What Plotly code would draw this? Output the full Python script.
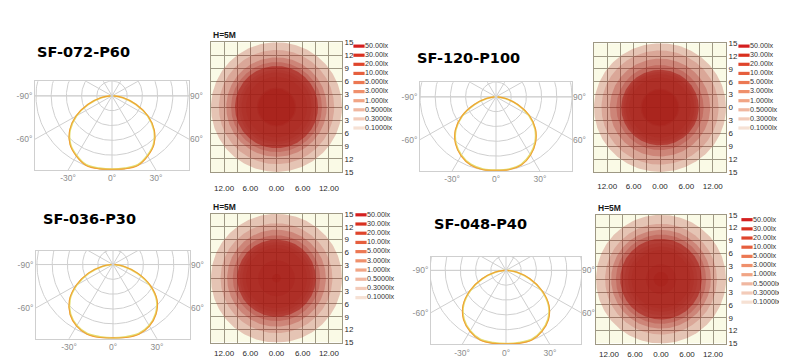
import numpy as np
import plotly.graph_objects as go

W, H = 787, 361

# ---------------- data ----------------
models = ["SF-072-P60", "SF-120-P100", "SF-036-P30", "SF-048-P40"]

# polar photometric diagram: angle from nadir (deg) and relative intensity (outer ring = 1)
angles_deg = [-90, -80, -70, -60, -50, -40, -30, -20, -10, 0, 10, 20, 30, 40, 50, 60, 70, 80, 90]
p60_c0 = [0.02, 0.15, 0.34, 0.55, 0.73, 0.86, 0.94, 1.00, 1.00, 0.99, 1.00, 1.00, 0.94, 0.86, 0.73, 0.55, 0.34, 0.15, 0.02]
p60_c90 = [0.02, 0.14, 0.33, 0.54, 0.72, 0.85, 0.93, 0.99, 0.99, 0.99, 0.99, 0.99, 0.93, 0.85, 0.72, 0.54, 0.33, 0.14, 0.02]
p100_c0 = [0.02, 0.13, 0.31, 0.52, 0.70, 0.83, 0.92, 0.98, 1.00, 0.99, 1.00, 0.98, 0.91, 0.81, 0.68, 0.51, 0.31, 0.13, 0.02]
p100_c90 = [0.02, 0.12, 0.30, 0.51, 0.69, 0.82, 0.91, 0.97, 0.99, 0.99, 0.99, 0.97, 0.90, 0.80, 0.67, 0.50, 0.30, 0.12, 0.02]
p30_c0 = [0.02, 0.15, 0.35, 0.56, 0.75, 0.88, 0.96, 1.00, 1.00, 0.99, 1.00, 1.00, 0.96, 0.88, 0.76, 0.57, 0.35, 0.15, 0.02]
p30_c90 = [0.02, 0.14, 0.34, 0.55, 0.74, 0.87, 0.95, 0.99, 0.99, 0.99, 0.99, 0.99, 0.95, 0.87, 0.75, 0.56, 0.34, 0.14, 0.02]
p40_c0 = [0.02, 0.15, 0.34, 0.55, 0.74, 0.87, 0.95, 1.00, 1.00, 0.99, 1.00, 1.00, 0.95, 0.87, 0.74, 0.55, 0.34, 0.15, 0.02]
p40_c90 = [0.02, 0.14, 0.33, 0.54, 0.73, 0.86, 0.94, 0.99, 0.99, 0.99, 0.99, 0.99, 0.94, 0.86, 0.73, 0.54, 0.33, 0.14, 0.02]

polar_rings = [0.2, 0.4, 0.6, 0.8, 1.0]
polar_spokes = [-90, -60, -30, 0, 30, 60, 90]
polar_spoke_labels = ["-90°", "-60°", "-30°", "0°", "30°", "60°", "90°"]

# isolux diagram (H = 5 m): radius (m) of each illuminance contour
lux_levels = [50, 30, 20, 10, 5, 3, 1, 0.5, 0.3, 0.1]
lux_labels = ["50.00lx", "30.00lx", "20.00lx", "10.00lx", "5.000lx",
              "3.000lx", "1.000lx", "0.5000lx", "0.3000lx", "0.1000lx"]
p60_radii = [4.2, 4.5, 7.0, 8.0, 8.6, 9.5, 10.4, 11.5, 13.2, 15.0]
p100_radii = [4.1, 4.4, 7.0, 7.8, 8.3, 8.8, 9.9, 11.4, 13.3, 15.0]
p30_radii = [1.0, 4.2, 7.0, 7.8, 8.4, 9.0, 10.0, 11.3, 12.8, 15.0]
p40_radii = [1.7, 3.5, 6.8, 7.6, 8.4, 9.4, 10.4, 11.5, 12.9, 15.0]

iso_xticks = [-12, -6, 0, 6, 12]
iso_xticktext = ["12.00", "6.00", "0.00", "6.00", "12.00"]
iso_yticks = [-15, -12, -9, -6, -3, 0, 3, 6, 9, 12, 15]
iso_yticktext = ["15", "12", "9", "6", "3", "0", "3", "6", "9", "12", "15"]
iso_title = "H=5M"

# ---------------- style / layout ----------------
GRID = "#cfcfcf"
ISO_GRID = "#9e9884"
CREAM = "#fafae6"
LEG_COLORS = ["#d41f1f", "#d9301f", "#df452c", "#e65f3e", "#ec7853",
              "#ef906c", "#f1a585", "#f0b7a0", "#f3cbb9", "#f6e1d4"]
FILL_RGB = "165,26,20"
FILL_ALPHA = [0.3, 0.2, 0.15, 0.15, 0.15, 0.55, 0.23, 0.24, 0.17, 0.24]  # same order as lux_levels
NARROW = "Liberation Sans Narrow, Arial Narrow, Liberation Sans, Arial"

# pixel boxes: (left, top, right, bottom, centre_y)
polar_boxes = [(27, 71, 181, 162, 86), (412, 72, 564, 163, 87),
               (28, 245, 182, 335, 259), (423, 251, 573, 341, 265)]
iso_boxes = [(203, 31, 334, 164), (586, 32, 718, 164),
             (203, 207, 334, 339), (588, 208, 718, 340)]
iso_label_len = [8, 6, 3, 3]
iso_show_title = [True, False, True, True]
legend_pos = [(351, 35, 9.33), (736, 35, 9.33), (353, 208, 9.44), (739, 213, 9.4)]
title_pos = [(75, 41.5), (460, 47), (81, 212.5), (472, 217.5)]

polar_series = [(p60_c0, p60_c90), (p100_c0, p100_c90), (p30_c0, p30_c90), (p40_c0, p40_c90)]
iso_series = [p60_radii, p100_radii, p30_radii, p40_radii]

fig = go.Figure()
layout = dict(width=W, height=H, margin=dict(l=0, r=0, t=0, b=0),
              paper_bgcolor="white", plot_bgcolor="white", showlegend=False,
              shapes=[], annotations=[])
counter = [0]


def new_axes():
    counter[0] += 1
    n = counter[0]
    return "" if n == 1 else str(n)


def dom_x(a, b):
    return [a / W, b / W]


def dom_y(top, bottom):
    return [1 - bottom / H, 1 - top / H]


th_curve = np.radians(angles_deg)
t_circ = np.linspace(0, 2 * np.pi, 241)

for k in range(4):
    # ---------- polar diagram ----------
    left, top, right, bottom, cy = polar_boxes[k]
    R = bottom - cy
    xh = (right - left) / 2 / R
    yt = (cy - top) / R
    s = new_axes()
    sR = new_axes()
    xa, ya, yr = "x" + s, "y" + s, "y" + sR
    for r in polar_rings:
        fig.add_trace(go.Scatter(x=r * np.sin(t_circ), y=r * np.cos(t_circ), xaxis=xa, yaxis=ya,
                                 mode="lines", line=dict(color=GRID, width=1), hoverinfo="skip"))
    for a in polar_spokes:
        th = np.radians(a)
        fig.add_trace(go.Scatter(x=[-3 * np.sin(th), 3 * np.sin(th)], y=[3 * np.cos(th), -3 * np.cos(th)],
                                 xaxis=xa, yaxis=ya, mode="lines", line=dict(color=GRID, width=1),
                                 hoverinfo="skip"))
    c0, c90 = polar_series[k]
    r90 = np.array(c90)
    r0 = np.array(c0)
    # yellow (C90) on the main axes, orange (C0) on the overlay axes (drawn on top)
    fig.add_trace(go.Scatter(x=r90 * np.sin(th_curve), y=-r90 * np.cos(th_curve), xaxis=xa, yaxis=ya,
                             mode="lines", line=dict(color="#e4dd6e", width=1.8, shape="spline"),
                             hoverinfo="skip"))
    fig.add_trace(go.Scatter(x=r0 * np.sin(th_curve), y=-r0 * np.cos(th_curve), xaxis=xa, yaxis=yr,
                             mode="lines", line=dict(color="#f0a035", width=1.1, shape="spline"),
                             hoverinfo="skip"))
    # tick labels where spokes meet the frame
    xt, xtt, ylv, ylt, yrv, yrt = [], [], [], [], [], []
    for a, lab in zip(polar_spokes, polar_spoke_labels):
        tn = abs(np.tan(np.radians(a))) if abs(a) < 90 else np.inf
        if tn <= xh:
            xt.append(np.tan(np.radians(a)))
            xtt.append(lab)
        else:
            yy = 0.0 if abs(a) == 90 else -xh / tn
            if a < 0:
                ylv.append(yy); ylt.append(lab)
            else:
                yrv.append(yy); yrt.append(lab)
    tf = dict(size=8.5, color="#8c8c8c", family="Liberation Sans, Arial")
    common = dict(showgrid=False, zeroline=False, fixedrange=True, ticks="", tickfont=tf)
    layout["xaxis" + s] = dict(domain=dom_x(left, right), range=[-xh, xh], anchor=ya,
                               showline=True, mirror=True, linecolor=GRID, linewidth=1,
                               tickmode="array", tickvals=xt, ticktext=xtt, **common)
    layout["yaxis" + s] = dict(domain=dom_y(top, bottom), range=[-1, yt], anchor=xa,
                               showline=True, mirror=True, linecolor=GRID, linewidth=1,
                               tickmode="array", tickvals=ylv, ticktext=ylt, **common)
    layout["yaxis" + sR] = dict(range=[-1, yt], anchor=xa, overlaying=ya, side="right",
                                showline=False, tickmode="array", tickvals=yrv, ticktext=yrt, **common)
    cx, cyt = title_pos[k]
    layout["annotations"].append(dict(text=models[k], xref="paper", yref="paper", x=cx / W, y=1 - cyt / H,
                                      xanchor="center", yanchor="middle", showarrow=False,
                                      font=dict(family="DejaVu Sans", size=14.5, color="black", weight="bold")))

    # ---------- isolux diagram ----------
    l2, t2, r2, b2 = iso_boxes[k]
    s = new_axes()
    xa, ya = "x" + s, "y" + s
    layout["shapes"].append(dict(type="rect", xref=xa, yref=ya, x0=-15, x1=15, y0=-15, y1=15,
                                 fillcolor=CREAM, line=dict(width=0), layer="below"))
    radii = iso_series[k]
    for i in reversed(range(len(lux_levels))):
        rr = radii[i]
        fig.add_trace(go.Scatter(x=rr * np.cos(t_circ), y=rr * np.sin(t_circ), xaxis=xa, yaxis=ya,
                                 mode="lines", fill="toself", line=dict(width=0),
                                 fillcolor=f"rgba({FILL_RGB},{FILL_ALPHA[i]})", hoverinfo="skip"))
    itf = dict(size=8, color="#2a2a2a", family=NARROW)
    layout["xaxis" + s] = dict(domain=dom_x(l2, r2), range=[-15, 15], anchor=ya, fixedrange=True,
                               tickmode="array", tickvals=iso_xticks, ticktext=iso_xticktext,
                               showgrid=True, gridcolor=ISO_GRID, gridwidth=1, zeroline=False,
                               minor=dict(tick0=0, dtick=3, showgrid=True, gridcolor=ISO_GRID, gridwidth=1),
                               showline=True, mirror=True, linecolor=ISO_GRID, linewidth=1,
                               ticks="outside", ticklen=iso_label_len[k], tickcolor="rgba(0,0,0,0)",
                               tickfont=itf)
    layout["yaxis" + s] = dict(domain=dom_y(t2, b2), range=[-15, 15], anchor=xa, fixedrange=True,
                               side="right", tickmode="array", tickvals=iso_yticks, ticktext=iso_yticktext,
                               showgrid=True, gridcolor=ISO_GRID, gridwidth=1, zeroline=False,
                               showline=True, mirror=True, linecolor=ISO_GRID, linewidth=1,
                               ticks="", tickfont=itf)
    if iso_show_title[k]:
        layout["annotations"].append(dict(text=iso_title, xref=xa + " domain", yref=ya + " domain",
                                          x=0, y=1, xanchor="left", yanchor="bottom", showarrow=False,
                                          font=dict(size=8.5, color="#1a1a1a", family=NARROW,
                                                    weight="bold")))

    # ---------- legend column ----------
    mx, my0, dy = legend_pos[k]
    s = new_axes()
    xa, ya = "x" + s, "y" + s
    n = len(lux_labels)
    fig.add_trace(go.Scatter(x=[0] * n, y=list(range(n)), xaxis=xa, yaxis=ya, mode="markers+text",
                             text=lux_labels, textposition="middle right", cliponaxis=False,
                             marker=dict(symbol="line-ew", size=8, line=dict(width=3.2, color=LEG_COLORS)),
                             textfont=dict(size=7.2, color="#333333", family=NARROW), hoverinfo="skip"))
    layout["xaxis" + s] = dict(domain=dom_x(mx - 5, mx + 45), range=[-5, 45], anchor=ya, visible=False,
                               fixedrange=True)
    layout["yaxis" + s] = dict(domain=dom_y(my0 - dy / 2, my0 + (n - 1) * dy + dy / 2),
                               range=[n - 0.5, -0.5], anchor=xa, visible=False, fixedrange=True)

fig.update_layout(**layout)
fig.write_html("out.html")
